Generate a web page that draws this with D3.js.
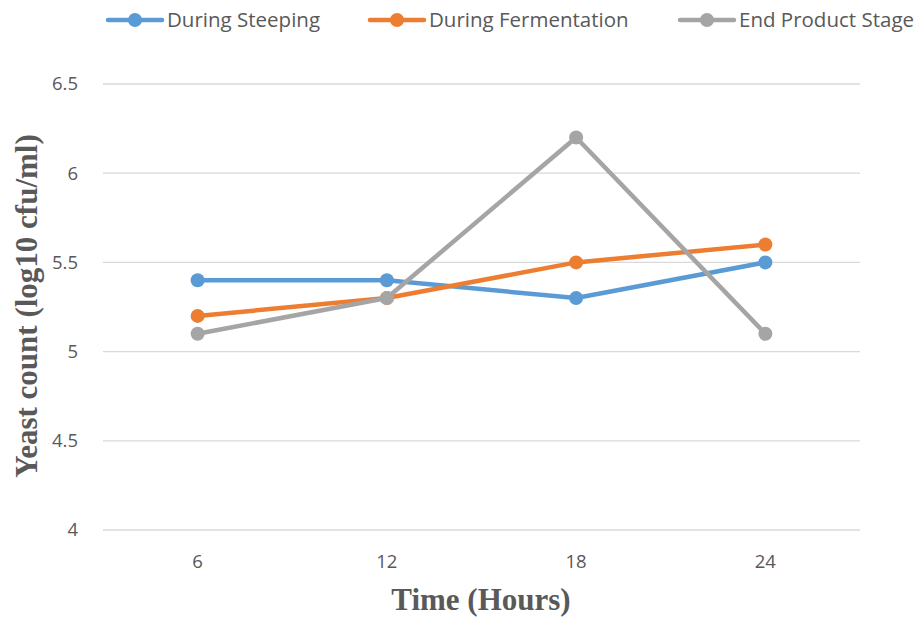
<!DOCTYPE html>
<html>
<head>
<meta charset="utf-8">
<script src="https://cdn.jsdelivr.net/npm/d3@7"></script>
<style>
  html, body { margin: 0; padding: 0; background: #fff; }
  svg { display: block; }
</style>
</head>
<body>
<svg id="chart" width="922" height="621"></svg>
<script>
// Yeast counts over time at three processing stages
const hours = ["6", "12", "18", "24"];
const steeping = [5.4, 5.4, 5.3, 5.5];
const fermentation = [5.2, 5.3, 5.5, 5.6];
const endProduct = [5.1, 5.3, 6.2, 5.1];
const yTicks = [4, 4.5, 5, 5.5, 6, 6.5];
const seriesNames = ["During Steeping", "During Fermentation", "End Product Stage"];
const seriesColors = ["#5B9BD5", "#ED7D31", "#A5A5A5"];

const series = [steeping, fermentation, endProduct].map((vals, i) => ({
  name: seriesNames[i], color: seriesColors[i], values: vals
}));

const svg = d3.select("#chart");
const plot = { left: 103, right: 860, top: 84, bottom: 530 };

const x = d3.scaleBand().domain(hours).range([plot.left, plot.right]);
const y = d3.scaleLinear().domain([4, 6.5]).range([plot.bottom, plot.top]);

// horizontal gridlines
svg.append("g").selectAll("line").data(yTicks).join("line")
  .attr("x1", plot.left).attr("x2", plot.right)
  .attr("y1", d => y(d)).attr("y2", d => y(d))
  .attr("stroke", "#d9d9d9").attr("stroke-width", 1.3);

// y tick labels
const yAxis = d3.axisLeft(y).tickValues(yTicks).tickSize(0).tickPadding(25)
  .tickFormat(d => String(d));
svg.append("g").attr("transform", `translate(${plot.left},0)`).call(yAxis)
  .call(g => g.select(".domain").remove())
  .selectAll("text")
  .attr("font-family", "'Open Sans', sans-serif").attr("font-size", 18.5)
  .attr("fill", "#595959");

// x tick labels
const xAxis = d3.axisBottom(x).tickSize(0).tickPadding(25);
svg.append("g").attr("transform", `translate(0,${plot.bottom})`).call(xAxis)
  .call(g => g.select(".domain").remove())
  .selectAll("text")
  .attr("font-family", "'Open Sans', sans-serif").attr("font-size", 18.5)
  .attr("fill", "#595959");

// axis titles
svg.append("text")
  .attr("x", 481).attr("y", 610)
  .attr("text-anchor", "middle")
  .attr("font-family", "'Liberation Serif', 'Times New Roman', serif")
  .attr("font-weight", "bold").attr("font-size", 31).attr("fill", "#595959")
  .text("Time (Hours)");

svg.append("text")
  .attr("transform", `translate(37,306) rotate(-90)`)
  .attr("text-anchor", "middle")
  .attr("font-family", "'Liberation Serif', 'Times New Roman', serif")
  .attr("font-weight", "bold").attr("font-size", 31).attr("fill", "#595959")
  .text("Yeast count (log10 cfu/ml)");

// series lines and markers
const line = d3.line()
  .x((d, i) => x(hours[i]) + x.bandwidth() / 2)
  .y(d => y(d));

const sg = svg.append("g").selectAll("g").data(series).join("g");
sg.append("path")
  .attr("d", d => line(d.values))
  .attr("fill", "none").attr("stroke", d => d.color)
  .attr("stroke-width", 4.5).attr("stroke-linejoin", "round").attr("stroke-linecap", "round");
sg.selectAll("circle").data(d => d.values.map((v, i) => ({ v, i, color: d.color }))).join("circle")
  .attr("cx", d => x(hours[d.i]) + x.bandwidth() / 2)
  .attr("cy", d => y(d.v))
  .attr("r", 7).attr("fill", d => d.color);

// legend
const legendX = [108, 370, 680];
const lg = svg.append("g").selectAll("g").data(series).join("g")
  .attr("transform", (d, i) => `translate(${legendX[i]},20)`);
lg.append("line").attr("x1", 0).attr("x2", 54).attr("y1", 0).attr("y2", 0)
  .attr("stroke", d => d.color).attr("stroke-width", 4.5).attr("stroke-linecap", "round");
lg.append("circle").attr("cx", 27).attr("cy", 0).attr("r", 7).attr("fill", d => d.color);
lg.append("text").attr("x", 59).attr("y", 0).attr("dy", "0.35em")
  .attr("font-family", "'Open Sans', sans-serif").attr("font-size", 20.5)
  .attr("fill", "#595959").text(d => d.name);
</script>
</body>
</html>
